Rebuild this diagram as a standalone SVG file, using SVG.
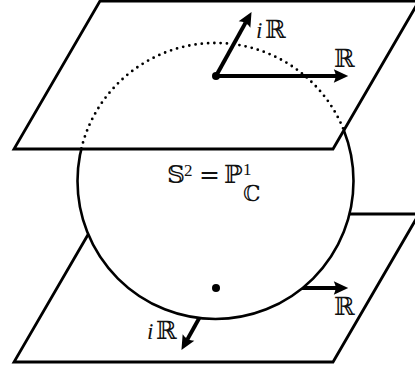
<svg xmlns="http://www.w3.org/2000/svg" width="415" height="369" viewBox="0 0 415 369">
<style>
.plane{fill:#fff;stroke:#000;stroke-width:2.8;stroke-linejoin:miter}
.vec{stroke:#000;stroke-width:4;fill:none}
.lbl{font-family:"DejaVu Serif","DejaVu Sans",serif;font-size:25px;fill:#111}
.sub{font-family:"DejaVu Serif","DejaVu Sans",serif;font-size:22px;fill:#111}
.it{font-family:"Liberation Serif",serif;font-style:italic;font-size:23px;fill:#111}
.num{font-family:"Liberation Serif",serif;font-size:17px;fill:#111}
</style>
<defs>
<marker id="ah" markerUnits="userSpaceOnUse" markerWidth="20" markerHeight="20" viewBox="-4 -8 18 16" refX="0" refY="0" orient="auto" overflow="visible">
<path d="M-2,-6 L11,0 L-2,6 Q1.2,0 -2,-6 Z" fill="#000"/>
</marker>
<clipPath id="topclip"><polygon points="100,1 419,1 333,149 14,149"/></clipPath>
</defs>
<rect width="415" height="369" fill="#fff"/>
<g id="bottom-plane"><polygon class="plane" points="100,214 419,214 333,362 14,362"/></g>
<g id="connectors-bottom">
<line class="vec" x1="216" y1="288" x2="336" y2="288" marker-end="url(#ah)"/>
<line class="vec" x1="216" y1="288" x2="187.4" y2="339.4" marker-end="url(#ah)"/>
</g>
<g id="sphere"><circle cx="215.5" cy="181" r="138" fill="#fff" stroke="#000" stroke-width="2.6"/></g>
<g id="south-pole"><circle cx="216" cy="288" r="4" fill="#000"/></g>
<g id="top-plane"><polygon class="plane" points="100,1 419,1 333,149 14,149"/></g>
<g id="hidden-arc"><circle cx="215.5" cy="181" r="138" fill="none" stroke="#000" stroke-width="2.8" stroke-linecap="round" stroke-dasharray="0 6.3" clip-path="url(#topclip)"/></g>
<g id="connectors-top">
<line class="vec" x1="216" y1="76" x2="336" y2="76" marker-end="url(#ah)"/>
<line class="vec" x1="216" y1="76" x2="245.6" y2="22.6" marker-end="url(#ah)"/>
</g>
<g id="north-pole"><circle cx="216" cy="76" r="4" fill="#000"/></g>
<g id="labels">
<text class="it" x="256" y="38">i</text><text class="lbl" x="265" y="38">ℝ</text>
<text class="lbl" x="334" y="67">ℝ</text>
<text class="lbl" x="334" y="315">ℝ</text>
<text class="it" x="147" y="339">i</text><text class="lbl" x="156" y="339">ℝ</text>
<text class="lbl" x="167" y="183">𝕊</text>
<text class="num" x="184" y="176">2</text>
<text class="lbl" x="199" y="183">=</text>
<text class="lbl" x="224" y="183">ℙ</text>
<text class="num" x="243" y="175">1</text>
<text class="sub" x="243" y="201">ℂ</text>
</g>
</svg>
